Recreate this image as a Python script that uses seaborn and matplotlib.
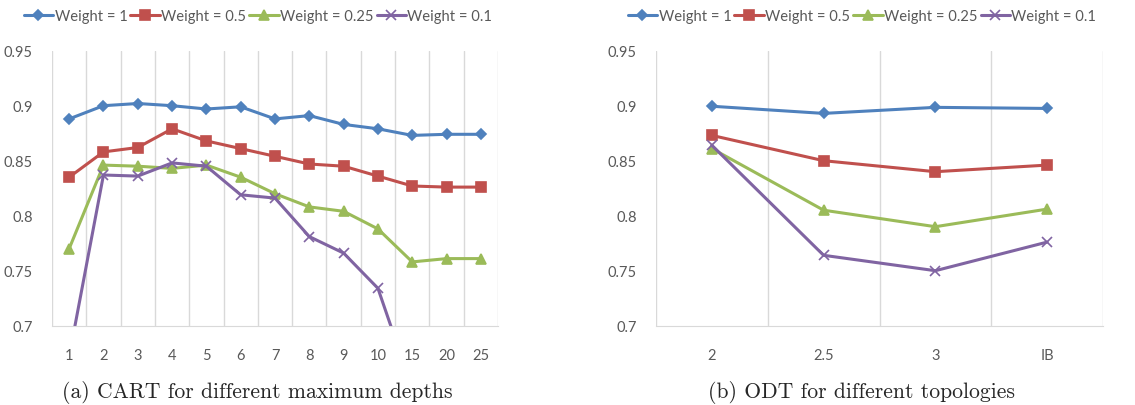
import pandas as pd
import seaborn as sns
import matplotlib.pyplot as plt
from matplotlib.ticker import FixedLocator

# CART, accuracy vs max depth
depths = ["1", "2", "3", "4", "5", "6", "7", "8", "9", "10", "15", "20", "25"]
cart_w1 = [0.888, 0.900, 0.902, 0.900, 0.897, 0.899, 0.888, 0.891, 0.883, 0.879, 0.873, 0.874, 0.874]
cart_w05 = [0.835, 0.858, 0.862, 0.879, 0.868, 0.861, 0.854, 0.847, 0.845, 0.836, 0.827, 0.826, 0.826]
cart_w025 = [0.770, 0.846, 0.845, 0.843, 0.846, 0.835, 0.820, 0.808, 0.804, 0.788, 0.758, 0.761, 0.761]
cart_w01 = [0.672, 0.837, 0.836, 0.848, 0.845, 0.819, 0.816, 0.781, 0.766, 0.734, 0.643, 0.640, 0.640]

# ODT, accuracy vs topology
topologies = ["2", "2.5", "3", "IB"]
odt_w1 = [0.8995, 0.893, 0.8985, 0.8975]
odt_w05 = [0.873, 0.850, 0.840, 0.846]
odt_w025 = [0.861, 0.805, 0.790, 0.806]
odt_w01 = [0.864, 0.764, 0.750, 0.776]

weights = ["Weight = 1", "Weight = 0.5", "Weight = 0.25", "Weight = 0.1"]
colors = ["#4F81BD", "#C0504D", "#9BBB59", "#8064A2"]
markers = ["D", "s", "^", "x"]
msizes = [5, 7, 6.5, 7]

sns.set_style("white")
plt.rcParams["font.family"] = ["Lato", "DejaVu Sans"]

fig = plt.figure(figsize=(11.35, 4.06), dpi=100)
ax1 = fig.add_axes([52 / 1135, 1 - 326.7 / 406, 446 / 1135, 275 / 406])
ax2 = fig.add_axes([656 / 1135, 1 - 326.7 / 406, 447 / 1135, 275 / 406])

panels = [
    (ax1, depths, [cart_w1, cart_w05, cart_w025, cart_w01], 258),
    (ax2, topologies, [odt_w1, odt_w05, odt_w025, odt_w01], 862),
]

for ax, cats, series, leg_x in panels:
    df = pd.DataFrame({"cat": cats})
    for w, vals, c, m, ms in zip(weights, series, colors, markers, msizes):
        df[w] = vals
        sns.lineplot(data=df, x="cat", y=w, color=c, marker=m, markersize=ms,
                     markeredgecolor=c, markerfacecolor=c, markeredgewidth=1.2,
                     linewidth=2.2, sort=False, label=w, legend=False, ax=ax)
    n = len(cats)
    ax.set_xlim(-0.5, n - 0.5)
    ax.set_ylim(0.7, 0.95)
    ax.set_yticks([0.7, 0.75, 0.8, 0.85, 0.9, 0.95])
    ax.set_yticklabels(["0.7", "0.75", "0.8", "0.85", "0.9", "0.95"])
    ax.xaxis.set_minor_locator(FixedLocator([i - 0.5 for i in range(n + 1)]))
    ax.grid(False)
    ax.grid(True, axis="x", which="minor", color="#D9D9D9", linewidth=1)
    ax.tick_params(axis="both", which="both", length=0, labelsize=10.5, labelcolor="#595959")
    ax.tick_params(axis="x", pad=16)
    ax.tick_params(axis="y", pad=14)
    for s in ["top", "right", "left"]:
        ax.spines[s].set_visible(False)
    ax.spines["bottom"].set_color("#D9D9D9")
    ax.set_xlabel("")
    ax.set_ylabel("")
    fig.legend(ax.get_lines(), weights, loc="center", ncol=4,
               bbox_to_anchor=(leg_x / 1135, 1 - 17 / 406), frameon=False,
               fontsize=10.6, labelcolor="#595959", handlelength=2.0,
               handletextpad=0.1, columnspacing=0.2)

fig.text(257 / 1135, 1 - 393 / 406, "(a) CART for different maximum depths",
         family="cmr10", fontsize=15.6, ha="center", va="center")
fig.text(861 / 1135, 1 - 393 / 406, "(b) ODT for different topologies",
         family="cmr10", fontsize=15.6, ha="center", va="center")

fig.savefig("out.png", dpi=100)
